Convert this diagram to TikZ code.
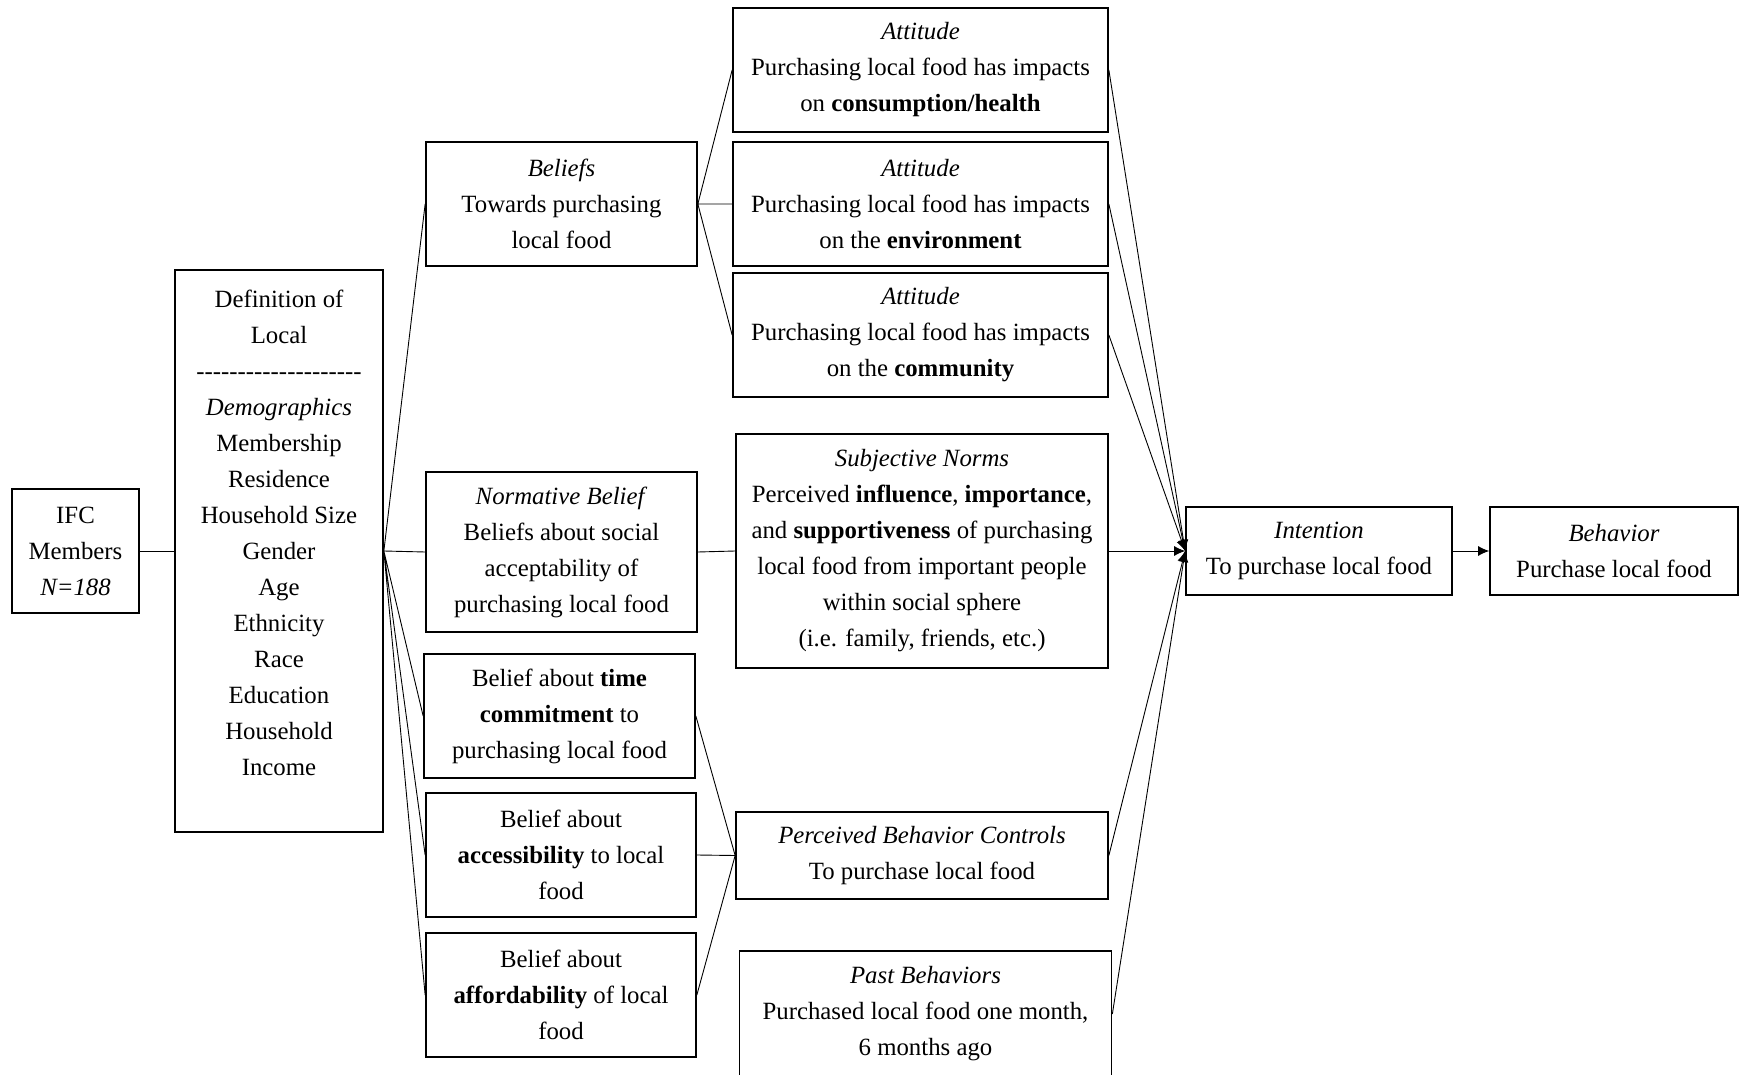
\documentclass[tikz,border=0pt]{standalone}
\usepackage{fontspec}
\setmainfont{Liberation Serif}
\usepackage{tikz}
\usetikzlibrary{arrows.meta}

\newcommand{\hyphrow}{\foreach \k in {1,...,20}{-\kern0pt}}

\begin{document}
\begin{tikzpicture}[x=0.5pt,y=-0.5pt,
    font=\fontsize{12.4}{18}\selectfont,
    box/.style={draw,line width=0.85pt,inner sep=0pt,align=center},
    link/.style={line width=0.45pt},
    feed/.style={line width=0.45pt,-{Latex[length=5.5pt,width=5pt]}}]
    \useasboundingbox (0,0) rectangle (1741,1075);

    \node (ifc) at (75.5,551) [box,minimum width=63.5pt,minimum height=62pt]
        {IFC\\Members\\\textit{N=188}};
    \node (defn) at (279,551) [box,minimum width=104pt,minimum height=281pt]
        {Definition of\\Local\\\hyphrow\\\textit{Demographics}\\Membership\\Residence\\Household Size\\Gender\\Age\\Ethnicity\\Race\\Education\\Household\\Income\\\mbox{}};

    \node (beliefs) at (561.5,204) [box,minimum width=135.5pt,minimum height=62pt]
        {\textit{Beliefs}\\Towards purchasing\\local food};
    \node (normb) at (561.5,552) [box,minimum width=135.5pt,minimum height=80pt]
        {\textit{Normative Belief}\\Beliefs about social\\acceptability of\\purchasing local food};
    \node (timeb) at (559.5,716) [box,minimum width=135.5pt,minimum height=62pt]
        {Belief about \textbf{time}\\\textbf{commitment} to\\purchasing local food};
    \node (accb) at (561,855) [box,minimum width=135pt,minimum height=62pt]
        {Belief about\\\textbf{accessibility} to local\\food};
    \node (affb) at (561,995) [box,minimum width=135pt,minimum height=62pt]
        {Belief about\\\textbf{affordability} of local\\food};

    \node (att1) at (920.5,70) [box,minimum width=187.5pt,minimum height=62pt]
        {\textit{Attitude}\\Purchasing local food has impacts\\on \textbf{consumption/health}};
    \node (att2) at (920.5,204) [box,minimum width=187.5pt,minimum height=62pt]
        {\textit{Attitude}\\Purchasing local food has impacts\\on the \textbf{environment}};
    \node (att3) at (920.5,335) [box,minimum width=187.5pt,minimum height=62pt]
        {\textit{Attitude}\\Purchasing local food has impacts\\on the \textbf{community}};
    \node (subjn) at (922,551) [box,minimum width=186pt,minimum height=117pt]
        {\textit{Subjective Norms}\\Perceived \textbf{influence}, \textbf{importance},\\and \textbf{supportiveness} of purchasing\\local food from important people\\within social sphere\\(i.e. family, friends, etc.)};
    \node (pbc) at (922,855.5) [box,minimum width=186pt,minimum height=43.5pt]
        {\textit{Perceived Behavior Controls}\\To purchase local food};
    \node (past) at (925.5,1014) [box,minimum width=186pt,minimum height=63pt]
        {\textit{Past Behaviors}\\Purchased local food one month,\\6 months ago};

    \node (intent) at (1319,551) [box,minimum width=133pt,minimum height=44pt]
        {\textit{Intention}\\To purchase local food};
    \node (behav) at (1614,551) [box,minimum width=124pt,minimum height=44pt]
        {\textit{Behavior}\\Purchase local food};

    \draw[link] (ifc) -- (defn);
    \draw[link]
    (defn.east) -- (beliefs.west)
    (defn.east) -- (normb.west)
    (defn.east) -- (timeb.west)
    (defn.east) -- (accb.west)
    (defn.east) -- (affb.west);

    \draw[link]
    (beliefs.east) -- (att1.west)
    (beliefs.east) -- (att2.west)
    (beliefs.east) -- (att3.west)
    (normb.east) -- (subjn.west)
    (timeb.east) -- (pbc.west)
    (accb.east) -- (pbc.west)
    (affb.east) -- (pbc.west);

    \draw[feed] (att1.east) -- (intent.west);
    \draw[feed] (att2.east) -- (intent.west);
    \draw[feed] (att3.east) -- (intent.west);
    \draw[feed] (subjn.east) -- (intent.west);
    \draw[feed] (pbc.east) -- (intent.west);
    \draw[feed] (past.east) -- (intent.west);
    \draw[feed] (intent) -- (behav);
  \end{tikzpicture}
\end{document}
